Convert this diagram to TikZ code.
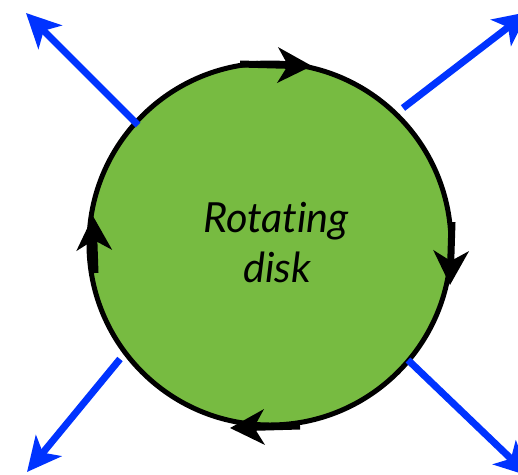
\documentclass[tikz,border=0pt]{standalone}
\usepackage{fontspec}
\setmainfont[Ligatures=NoCommon]{Lato}
\usetikzlibrary{arrows.meta}
\definecolor{diskgreen}{RGB}{119,187,65}
\definecolor{pushblue}{RGB}{0,51,255}
\begin{document}
\begin{tikzpicture}[x=1pt,y=-1pt,
  rim/.style={line width=5pt, draw=black, fill=diskgreen},
  spin/.style={line width=7pt, draw=black, -{Stealth[length=34pt,width=35pt,inset=10pt]}},
  push/.style={line width=7pt, draw=pushblue, -{Stealth[length=34pt,width=33pt,inset=9pt]}},
  caption/.style={anchor=base, inner sep=0pt, font=\fontsize{41.5}{50}\selectfont\itshape},
]
\useasboundingbox (0,0) rectangle (518,474);

% the disk
\coordinate (c) at (270,244);
\draw[rim] (c) circle[radius=181pt];

% sense of rotation (clockwise)
\coordinate (t0) at (240,64);  \coordinate (t1) at (312,66);
\coordinate (r0) at (452,222); \coordinate (r1) at (450,285);
\coordinate (b0) at (300,426); \coordinate (b1) at (230,428);
\coordinate (l0) at (95,273);  \coordinate (l1) at (93,216);
\draw[spin] (t0) -- (t1);
\draw[spin] (r0) -- (r1);
\draw[spin] (b0) -- (b1);
\draw[spin] (l0) -- (l1);

% outward pushes
\coordinate (ul0) at (138,125); \coordinate (ul1) at (26,13);
\coordinate (ur0) at (403,108); \coordinate (ur1) at (528,12);
\coordinate (ll0) at (120,359); \coordinate (ll1) at (27,472);
\coordinate (lr0) at (408,360); \coordinate (lr1) at (529,476);
\draw[push] (ul0) -- (ul1);
\draw[push] (ur0) -- (ur1);
\draw[push] (ll0) -- (ll1);
\draw[push] (lr0) -- (lr1);

% label
\node[caption] (word1) at (276,232) {Rotating};
\node[caption] (word2) at (277,282) {disk};
\end{tikzpicture}
\end{document}
